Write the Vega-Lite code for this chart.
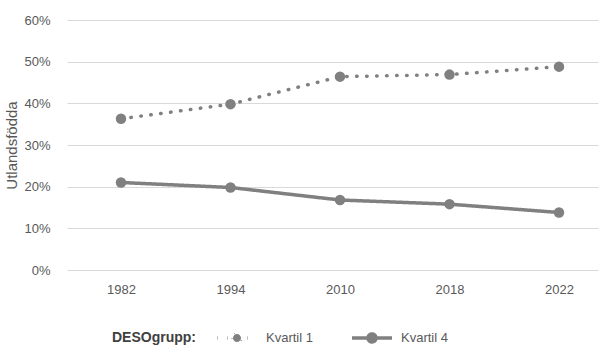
{
  "$schema": "https://vega.github.io/schema/vega-lite/v6.json",
  "autosize": "none",
  "width": 531,
  "height": 250,
  "padding": {"left": 67, "top": 20, "right": 2, "bottom": 81},
  "background": "white",
  "config": {
    "font": "Liberation Sans",
    "view": {"stroke": null},
    "axis": {"labelFont": "Liberation Sans", "labelFontSize": 13, "labelColor": "#595959", "titleColor": "#595959", "titleFontWeight": "normal", "titleFontSize": 15}
  },
  "data": {"values": [
    {"year": "1982", "group": "Kvartil 1", "value": 0.363},
    {"year": "1994", "group": "Kvartil 1", "value": 0.398},
    {"year": "2010", "group": "Kvartil 1", "value": 0.464},
    {"year": "2018", "group": "Kvartil 1", "value": 0.469},
    {"year": "2022", "group": "Kvartil 1", "value": 0.488},
    {"year": "1982", "group": "Kvartil 4", "value": 0.210},
    {"year": "1994", "group": "Kvartil 4", "value": 0.198},
    {"year": "2010", "group": "Kvartil 4", "value": 0.168},
    {"year": "2018", "group": "Kvartil 4", "value": 0.158},
    {"year": "2022", "group": "Kvartil 4", "value": 0.138}
  ]},
  "encoding": {
    "x": {"field": "year", "type": "ordinal", "scale": {"type": "point", "range": [54, 492], "padding": 0},
      "axis": {"title": null, "labelAngle": 0, "ticks": false, "domain": false, "labelPadding": 13, "grid": false}},
    "y": {"field": "value", "type": "quantitative", "scale": {"domain": [0, 0.6]},
      "axis": {"title": "Utlandsfödda", "format": ".0%", "tickCount": 6, "grid": false, "ticks": true, "tickSize": -531, "tickColor": "#d9d9d9", "tickWidth": 1, "domain": false, "labelPadding": 548, "titlePadding": 4}}
  },
  "layer": [
    {
      "mark": {"type": "line", "color": "#808080", "strokeWidth": 3.5, "strokeCap": "round"},
      "encoding": {
        "strokeDash": {"field": "group", "type": "nominal",
          "scale": {"domain": ["Kvartil 1", "Kvartil 4"], "range": [[0.5, 9.5], [1, 0]]},
          "legend": {
            "title": "DESOgrupp:", "orient": "none", "legendX": 45, "legendY": 306, "direction": "horizontal",
            "titleOrient": "left", "titleFontSize": 14, "titleFontWeight": "bold", "titleColor": "#404040", "titlePadding": 29,
            "labelFontSize": 13, "labelColor": "#595959", "labelOffset": 17, "columnPadding": 32,
            "symbolType": "M-2,0H2M-0.4,0A0.4,0.4 0 1,0 0.4,0A0.4,0.4 0 1,0 -0.4,0",
            "symbolSize": 400, "symbolStrokeWidth": 3.5, "symbolStrokeColor": "#808080", "symbolFillColor": "#808080"
          }}
      }
    },
    {
      "mark": {"type": "point", "filled": true, "color": "#808080", "opacity": 1, "size": 110},
      "encoding": {"detail": {"field": "group"}}
    }
  ]
}
